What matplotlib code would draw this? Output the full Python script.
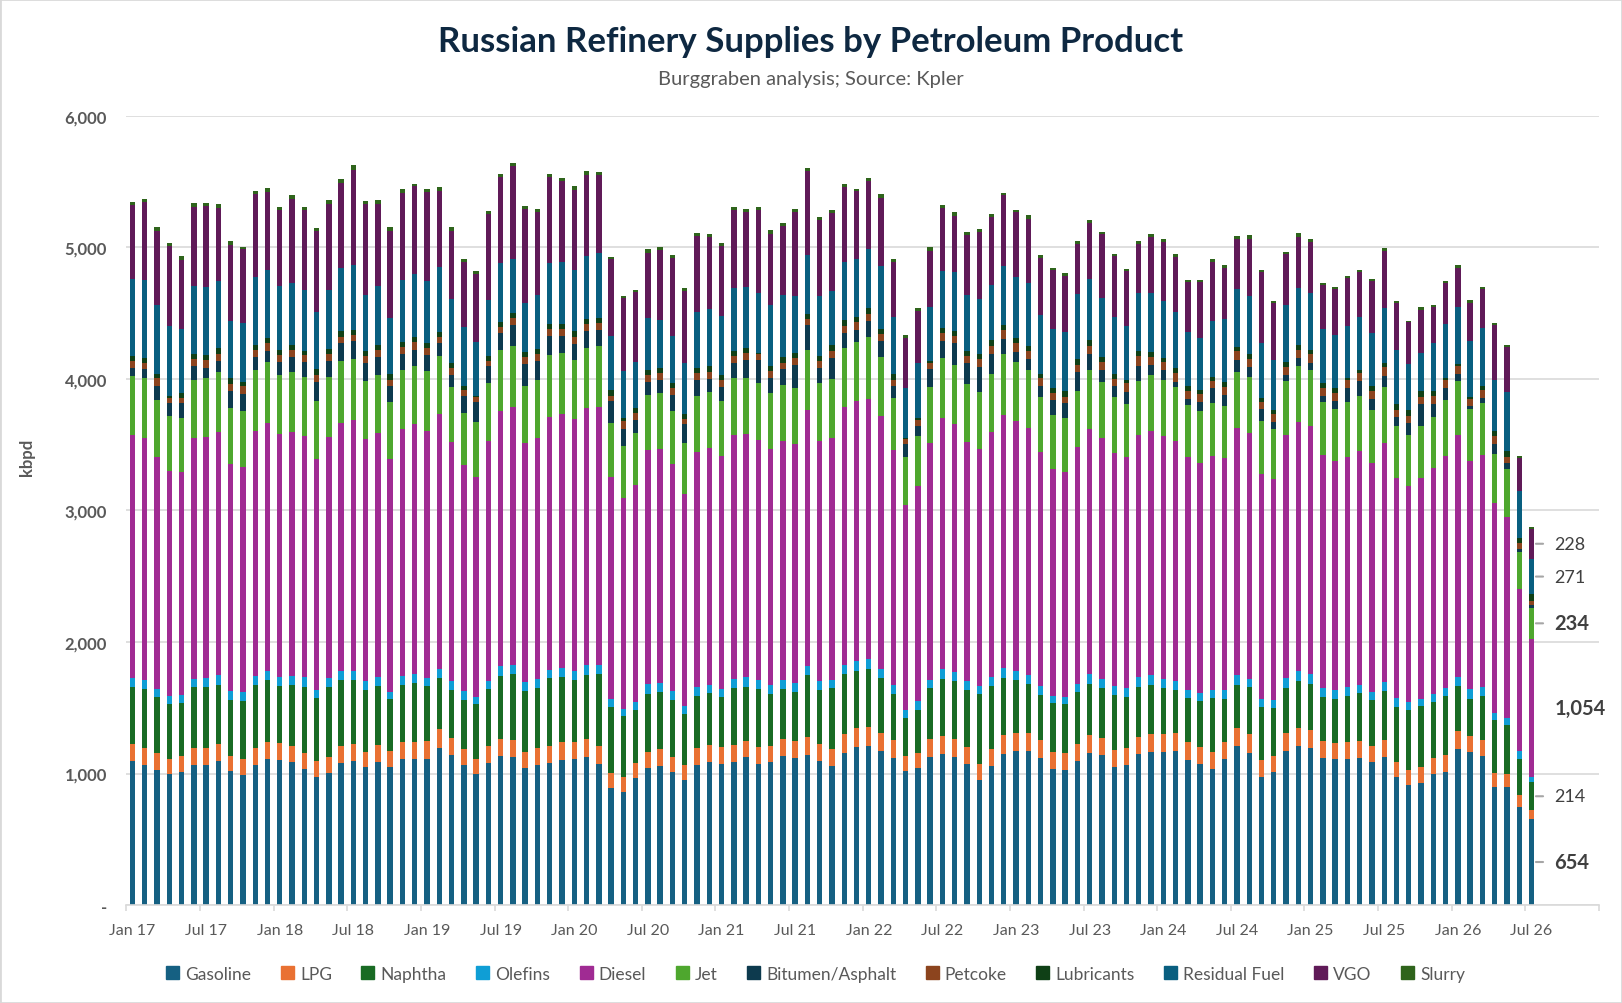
import numpy as np
import pandas as pd
import matplotlib
matplotlib.use("Agg")
import matplotlib.pyplot as plt
from matplotlib.patches import Rectangle
from matplotlib.ticker import FuncFormatter

plt.rcParams['font.family'] = ['Lato', 'DejaVu Sans']

# monthly supplies, kbpd, Jan 2017 .. Jul 2026 (one row per year)
gasoline = [1094, 1064, 1028, 998, 1013, 1064, 1064, 1094, 1020, 987, 1064, 1109,
            1101, 1086, 1035, 972, 1005, 1079, 1094, 1050, 1086, 1050, 1109, 1109,
            1109, 1193, 1142, 1064, 998, 1079, 1134, 1127, 1042, 1064, 1079, 1101,
            1109, 1127, 1072, 891, 858, 965, 1042, 1057, 1013, 950, 1064, 1086,
            1072, 1086, 1127, 1072, 1086, 1134, 1120, 1142, 1094, 1057, 1156, 1201,
            1208, 1171, 1120, 1020, 1042, 1127, 1149, 1127, 1072, 950, 1057, 1149,
            1171, 1171, 1120, 1035, 1028, 1094, 1156, 1142, 1050, 1064, 1149, 1164,
            1164, 1171, 1101, 1072, 1035, 1109, 1208, 1156, 972, 1013, 1171, 1208,
            1193, 1120, 1109, 1109, 1120, 1086, 1127, 972, 913, 928, 998, 1013,
            1186, 1164, 1134, 899, 899, 748, 654]
lpg = [129, 129, 129, 110, 122, 129, 129, 129, 114, 122, 129, 133,
       129, 122, 122, 122, 122, 129, 129, 114, 129, 122, 133, 133,
       140, 144, 129, 122, 110, 129, 129, 129, 122, 129, 129, 140,
       133, 136, 136, 114, 114, 114, 122, 129, 114, 114, 129, 129,
       129, 129, 122, 129, 122, 129, 129, 136, 129, 129, 144, 144,
       144, 136, 136, 114, 114, 136, 136, 136, 129, 122, 129, 144,
       136, 136, 136, 129, 129, 129, 136, 129, 129, 129, 129, 136,
       136, 136, 140, 129, 129, 133, 136, 144, 129, 122, 136, 136,
       136, 129, 122, 133, 129, 122, 129, 114, 114, 122, 122, 129,
       136, 122, 122, 107, 99, 85, 66]
naphtha = [435, 449, 424, 420, 401, 464, 464, 449, 424, 442, 479, 468,
           435, 464, 501, 479, 530, 501, 486, 471, 449, 394, 431, 446,
           416, 390, 365, 372, 420, 435, 479, 501, 464, 457, 519, 494,
           468, 486, 549, 501, 464, 405, 442, 435, 431, 387, 394, 398,
           379, 435, 409, 442, 398, 379, 372, 471, 412, 464, 457, 435,
           442, 420, 350, 287, 328, 387, 435, 438, 435, 534, 479, 435,
           401, 372, 343, 372, 372, 398, 387, 379, 420, 387, 379, 372,
           350, 328, 331, 350, 409, 324, 328, 357, 405, 365, 343, 357,
           350, 331, 335, 346, 365, 350, 372, 420, 457, 464, 424, 446,
           343, 280, 331, 401, 368, 276, 214]
olefins = [70, 70, 63, 59, 63, 63, 70, 77, 70, 70, 70, 70,
           70, 70, 77, 63, 66, 70, 70, 70, 70, 55, 70, 70,
           63, 66, 66, 70, 52, 59, 74, 70, 70, 70, 59, 66,
           70, 77, 70, 59, 55, 59, 74, 66, 70, 63, 70, 59,
           63, 70, 77, 66, 66, 66, 66, 66, 66, 63, 66, 77,
           77, 66, 66, 63, 66, 59, 74, 70, 66, 59, 70, 74,
           70, 70, 66, 55, 55, 59, 77, 70, 66, 70, 77, 77,
           70, 66, 63, 63, 63, 70, 77, 63, 59, 59, 77, 77,
           77, 70, 70, 70, 59, 63, 66, 66, 59, 52, 63, 63,
           70, 77, 70, 52, 55, 59, 37]
diesel = [1845, 1838, 1764, 1713, 1694, 1830, 1830, 1845, 1724, 1709, 1860, 1886,
          1845, 1853, 1830, 1753, 1834, 1886, 1908, 1838, 1853, 1768, 1875, 1900,
          1875, 1937, 1816, 1716, 1672, 1830, 1937, 1959, 1812, 1830, 1923, 1930,
          1915, 1952, 1959, 1687, 1602, 1650, 1779, 1779, 1724, 1609, 1786, 1801,
          1772, 1853, 1845, 1827, 1794, 1823, 1816, 1948, 1830, 1838, 1963, 1974,
          1974, 1923, 1786, 1558, 1635, 1801, 1908, 1886, 1816, 1801, 1860, 1923,
          1900, 1875, 1779, 1724, 1709, 1801, 1867, 1830, 1772, 1757, 1838, 1853,
          1845, 1830, 1772, 1746, 1779, 1760, 1875, 1867, 1709, 1679, 1845, 1893,
          1886, 1772, 1738, 1749, 1779, 1738, 1816, 1672, 1643, 1679, 1716, 1764,
          1838, 1731, 1764, 1598, 1528, 1234, 1054]
jet = [449, 457, 431, 416, 409, 446, 449, 457, 427, 424, 464, 464,
       449, 457, 449, 442, 457, 471, 464, 438, 442, 435, 449, 438,
       457, 442, 420, 394, 420, 435, 464, 464, 435, 446, 471, 464,
       449, 460, 464, 412, 401, 394, 416, 427, 401, 387, 424, 427,
       416, 435, 427, 431, 427, 420, 427, 460, 435, 446, 453, 449,
       471, 449, 401, 365, 379, 427, 457, 446, 442, 435, 442, 464,
       449, 442, 416, 409, 409, 427, 442, 424, 424, 401, 416, 427,
       424, 405, 394, 394, 401, 398, 427, 427, 405, 379, 409, 431,
       424, 401, 398, 416, 416, 405, 427, 398, 387, 398, 387, 424,
       409, 398, 394, 372, 365, 284, 234]
bitumen = [59, 66, 110, 103, 114, 99, 81, 85, 129, 133, 99, 81,
           99, 114, 114, 144, 122, 136, 136, 140, 136, 122, 122, 122,
           122, 99, 92, 136, 151, 129, 129, 158, 166, 140, 144, 129,
           122, 125, 122, 166, 129, 103, 99, 103, 122, 147, 122, 103,
           107, 110, 136, 177, 114, 122, 180, 184, 114, 162, 107, 92,
           122, 122, 85, 96, 77, 136, 129, 169, 162, 188, 151, 114,
           81, 85, 85, 114, 114, 144, 122, 92, 85, 92, 114, 74,
           77, 44, 44, 70, 114, 81, 92, 74, 96, 59, 48, 55,
           52, 44, 59, 107, 114, 81, 85, 66, 92, 166, 99, 92,
           55, 22, 37, 74, 48, 18, 22]
petcoke = [55, 52, 55, 37, 37, 55, 55, 52, 55, 59, 52, 63,
           52, 52, 52, 55, 52, 44, 48, 52, 52, 44, 52, 63,
           52, 52, 52, 41, 37, 44, 48, 52, 55, 52, 55, 55,
           52, 52, 52, 44, 55, 55, 55, 52, 55, 37, 55, 48,
           55, 55, 52, 44, 52, 48, 48, 52, 55, 52, 55, 59,
           55, 52, 52, 41, 44, 48, 59, 52, 52, 63, 63, 70,
           63, 59, 63, 55, 44, 52, 63, 63, 52, 66, 70, 63,
           63, 63, 63, 63, 52, 63, 66, 63, 48, 55, 59, 66,
           70, 63, 63, 59, 63, 63, 66, 59, 52, 52, 59, 59,
           63, 52, 63, 63, 44, 52, 33]
lubricants = [37, 37, 33, 18, 37, 37, 44, 44, 44, 33, 41, 37,
              44, 41, 29, 44, 37, 48, 37, 37, 41, 48, 41, 37,
              41, 37, 37, 29, 7, 37, 37, 41, 37, 37, 37, 37,
              48, 41, 37, 44, 29, 33, 37, 33, 37, 37, 37, 44,
              37, 37, 37, 7, 37, 44, 37, 37, 37, 44, 44, 37,
              44, 44, 41, 7, 18, 18, 41, 41, 37, 37, 44, 37,
              37, 41, 29, 37, 48, 48, 44, 37, 41, 29, 37, 37,
              29, 37, 37, 29, 33, 37, 33, 37, 29, 33, 41, 33,
              29, 37, 37, 18, 22, 37, 33, 41, 48, 48, 41, 18,
              11, 15, 29, 37, 44, 37, 48]
residual = [586, 589, 523, 530, 490, 523, 516, 512, 435, 446, 516, 516,
            482, 471, 468, 435, 449, 479, 494, 427, 446, 424, 471, 479,
            471, 490, 490, 449, 416, 427, 449, 409, 372, 412, 464, 471,
            460, 482, 494, 412, 357, 350, 401, 365, 357, 390, 427, 435,
            446, 479, 464, 457, 468, 471, 435, 449, 457, 412, 442, 442,
            449, 475, 431, 379, 416, 412, 431, 446, 427, 420, 416, 449,
            464, 479, 453, 449, 446, 494, 464, 449, 431, 405, 442, 449,
            438, 427, 409, 394, 424, 479, 446, 442, 420, 379, 431, 438,
            435, 412, 401, 394, 401, 401, 416, 416, 346, 287, 365, 409,
            435, 427, 442, 387, 449, 354, 271]
vgo = [564, 593, 567, 611, 523, 597, 611, 556, 575, 560, 630, 593,
       578, 641, 608, 615, 656, 645, 726, 692, 626, 663, 659, 667,
       674, 582, 516, 494, 519, 652, 659, 707, 714, 630, 659, 622,
       608, 615, 593, 586, 549, 530, 494, 534, 593, 545, 578, 552,
       534, 593, 571, 630, 538, 530, 637, 637, 578, 593, 575, 516,
       516, 516, 420, 383, 398, 420, 479, 427, 457, 508, 519, 538,
       494, 490, 427, 446, 427, 379, 427, 486, 464, 424, 379, 431,
       449, 424, 387, 431, 449, 387, 379, 438, 545, 438, 387, 387,
       387, 339, 350, 365, 343, 398, 435, 357, 320, 328, 273, 313,
       298, 287, 295, 420, 343, 254, 228]
slurry = [22, 22, 26, 22, 29, 29, 22, 29, 29, 22, 22, 33,
          26, 26, 22, 22, 29, 29, 33, 22, 29, 29, 29, 22,
          22, 29, 29, 29, 22, 22, 22, 22, 29, 22, 22, 22,
          37, 26, 26, 15, 15, 22, 26, 22, 22, 29, 22, 18,
          22, 22, 29, 22, 29, 22, 29, 26, 22, 22, 22, 22,
          29, 29, 22, 18, 26, 29, 22, 29, 22, 22, 22, 15,
          22, 26, 22, 18, 22, 22, 22, 15, 15, 15, 22, 18,
          22, 22, 15, 15, 22, 22, 18, 26, 15, 15, 22, 26,
          22, 15, 15, 15, 15, 15, 22, 15, 11, 22, 15, 18,
          22, 22, 22, 15, 15, 11, 15]

products = ["Gasoline", "LPG", "Naphtha", "Olefins", "Diesel", "Jet",
            "Bitumen/Asphalt", "Petcoke", "Lubricants", "Residual Fuel", "VGO", "Slurry"]
series = [gasoline, lpg, naphtha, olefins, diesel, jet,
          bitumen, petcoke, lubricants, residual, vgo, slurry]
colors = ["#156082", "#E97132", "#196B24", "#0F9ED5", "#A02B93", "#4EA72E",
          "#0D3A4E", "#8C441E", "#0F4016", "#095F80", "#601A58", "#2F641C"]

# axis runs to Dec 26, data stops at Jul 26
months = pd.date_range("2017-01-01", periods=120, freq="MS")
n = len(gasoline)
x = np.arange(n)

fig = plt.figure(figsize=(16.22, 10.04), dpi=100)
ax = fig.add_axes([0.0779, 0.0976, 0.9079, 0.7859])

bottom = np.zeros(n)
bars = []
for name, vals, col in zip(products, series, colors):
    vals = np.array(vals, dtype=float)
    ax.bar(x, vals, width=0.44, bottom=bottom, color=col, label=name, linewidth=0)
    bars.append((name, vals, bottom.copy()))
    bottom = bottom + vals

ax.set_xlim(-0.5, len(months) - 0.5)
ax.set_ylim(0, 6000)

grey = "#595959"
ax.yaxis.set_major_locator(plt.MultipleLocator(1000))
ax.yaxis.set_major_formatter(FuncFormatter(lambda v, p: "-" if v == 0 else f"{v:,.0f}"))
ax.grid(axis="y", color="#D9D9D9", linewidth=1.2)
ax.set_axisbelow(True)
for s in ["top", "right", "left"]:
    ax.spines[s].set_visible(False)
ax.spines["bottom"].set_color("#D9D9D9")
ax.spines["bottom"].set_linewidth(1.2)

ax.tick_params(axis="y", length=0, pad=14, labelsize=12, labelcolor=grey)
for lab in ax.get_yticklabels():
    lab.set_fontweight("bold")

tick_pos = np.arange(0, n, 6)
ax.set_xticks(tick_pos)
ax.set_xticklabels([months[i].strftime("%b %y") for i in tick_pos])
ax.set_xticks(np.arange(-0.5, len(months), 6), minor=True)
ax.tick_params(axis="x", which="major", length=0, pad=13, labelsize=11.5, labelcolor=grey)
ax.tick_params(axis="x", which="minor", length=4, color="#D9D9D9", width=1.2)

ax.set_ylabel("kbpd", fontsize=12, fontweight="bold", color=grey)
ax.yaxis.set_label_coords(-0.062, 0.568)

# labels on the latest bar
labelled = {"Gasoline": True, "Naphtha": False, "Diesel": True,
            "Jet": True, "Residual Fuel": False, "VGO": False}
last = n - 1
for name, vals, bot in bars:
    if name not in labelled:
        continue
    bold = labelled[name]
    v = vals[last]
    mid = bot[last] + v / 2
    arrow = None if name == "Diesel" else dict(arrowstyle="-", color="#A6A6A6", lw=1.5,
                                               shrinkA=6, shrinkB=1)
    ax.annotate(f"{v:,.0f}", xy=(last + 0.25, mid), xytext=(last + 1.85, mid),
                ha="left", va="center", fontsize=14.5 if bold else 13,
                fontweight="bold" if bold else "normal", color="#404040",
                arrowprops=arrow, annotation_clip=False)

fig.text(0.5, 0.958, "Russian Refinery Supplies by Petroleum Product",
         ha="center", va="center", fontsize=25, fontweight="bold", color="#0E2841")
fig.text(0.5, 0.921, "Burggraben analysis; Source: Kpler",
         ha="center", va="center", fontsize=14.5, color=grey)

handles = [Rectangle((0, 0), 1, 1, color=c) for c in colors]
leg = fig.legend(handles, products, loc="center", bbox_to_anchor=(0.503, 0.029), ncol=12,
                 frameon=False, fontsize=12.5, handlelength=0.75, handleheight=0.75,
                 handletextpad=0.35, columnspacing=1.7)
for t in leg.get_texts():
    t.set_color(grey)

fig.patches.append(Rectangle((0, 0), 1, 1, transform=fig.transFigure, fill=False,
                             edgecolor="#D9D9D9", linewidth=2))

fig.savefig("out.png", dpi=100)
